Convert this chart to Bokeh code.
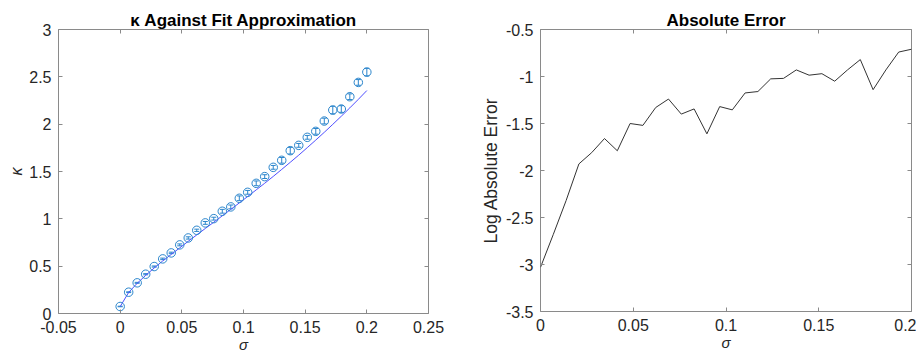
from bokeh.plotting import figure
from bokeh.layouts import row
from bokeh.models import Range1d, LinearAxis, FixedTicker, ColumnDataSource, Whisker, TeeHead
from bokeh.embed import file_html
from bokeh.resources import INLINE

# ---- data ----
sigma = [0.0, 0.0069, 0.0138, 0.0207, 0.0276, 0.0345, 0.0414, 0.0483, 0.0552, 0.0621,
         0.0690, 0.0759, 0.0828, 0.0897, 0.0966, 0.1034, 0.1103, 0.1172, 0.1241, 0.1310,
         0.1379, 0.1448, 0.1517, 0.1586, 0.1655, 0.1724, 0.1793, 0.1862, 0.1931, 0.2000]
kappa = [0.074, 0.225, 0.324, 0.415, 0.496, 0.577, 0.640, 0.725, 0.798, 0.879,
         0.957, 1.002, 1.080, 1.126, 1.217, 1.280, 1.375, 1.446, 1.544, 1.618,
         1.720, 1.776, 1.861, 1.924, 2.033, 2.149, 2.160, 2.290, 2.441, 2.550]
kappa_err = [0.003, 0.004, 0.005, 0.006, 0.006, 0.008, 0.008, 0.010, 0.012, 0.012,
             0.015, 0.015, 0.020, 0.020, 0.025, 0.020, 0.025, 0.020, 0.020, 0.030,
             0.035, 0.020, 0.020, 0.030, 0.030, 0.040, 0.035, 0.030, 0.030, 0.040]
kappa_fit = [0.073, 0.223, 0.319, 0.403, 0.481, 0.555, 0.624, 0.693, 0.763, 0.830,
             0.898, 0.964, 1.032, 1.100, 1.168, 1.236, 1.306, 1.376, 1.448, 1.522,
             1.597, 1.673, 1.752, 1.832, 1.914, 1.998, 2.084, 2.172, 2.262, 2.355]
log_abs_err = [-3.03, -2.68, -2.32, -1.93, -1.81, -1.66, -1.79, -1.50, -1.52, -1.33,
               -1.24, -1.40, -1.345, -1.61, -1.32, -1.355, -1.175, -1.16, -1.025, -1.02,
               -0.93, -0.986, -0.97, -1.05, -0.93, -0.82, -1.14, -0.93, -0.74, -0.71]

left_xticks = [-0.05, 0.0, 0.05, 0.1, 0.15, 0.2, 0.25]
left_xlabels = ["-0.05", "0", "0.05", "0.1", "0.15", "0.2", "0.25"]
left_yticks = [0.0, 0.5, 1.0, 1.5, 2.0, 2.5, 3.0]
left_ylabels = ["0", "0.5", "1", "1.5", "2", "2.5", "3"]
right_xticks = [0.0, 0.05, 0.1, 0.15, 0.2]
right_xlabels = ["0", "0.05", "0.1", "0.15", "0.2"]
right_yticks = [-3.5, -3.0, -2.5, -2.0, -1.5, -1.0, -0.5]
right_ylabels = ["-3.5", "-3", "-2.5", "-2", "-1.5", "-1", "-0.5"]

FONT = "Liberation Sans"
TXT = "#262626"
AX = "#8a8a8a"
BLUE = "#2a85cc"


def style(p, xt, xl, yt, yl):
    p.outline_line_color = AX
    p.outline_line_width = 1
    p.xgrid.visible = False
    p.ygrid.visible = False
    bottom = p.below[0]
    left = p.left[0]
    for ax, ticks, labels in ((bottom, xt, xl), (left, yt, yl)):
        ax.ticker = FixedTicker(ticks=ticks)
        ax.major_label_overrides = {t: s for t, s in zip(ticks, labels)}
        ax.axis_line_color = None
        ax.major_tick_line_color = AX
        ax.major_tick_in = 4
        ax.major_tick_out = 0
        ax.minor_tick_line_color = None
        ax.major_label_text_font = FONT
        ax.major_label_text_font_size = "16px"
        ax.major_label_text_color = TXT
        ax.axis_label_text_font = FONT
        ax.axis_label_text_color = TXT
    bottom.major_label_standoff = 7
    left.major_label_standoff = 7
    # mirrored ticks on top and right (no labels)
    top = LinearAxis(ticker=FixedTicker(ticks=xt), axis_line_color=None,
                     major_tick_line_color=AX, major_tick_in=4, major_tick_out=0,
                     minor_tick_line_color=None, major_label_text_color=None,
                     major_label_text_font_size="1px",
                     major_label_overrides={t: "" for t in xt},
                     major_label_standoff=0)
    right = LinearAxis(ticker=FixedTicker(ticks=yt), axis_line_color=None,
                       major_tick_line_color=AX, major_tick_in=4, major_tick_out=0,
                       minor_tick_line_color=None, major_label_text_color=None,
                       major_label_text_font_size="1px",
                       major_label_overrides={t: "" for t in yt},
                       major_label_standoff=0)
    p.add_layout(top, "above")
    p.add_layout(right, "right")
    p.title.text_font = FONT
    p.title.text_font_size = "17px"
    p.title.text_font_style = "bold"
    p.title.text_color = "#000000"
    p.title.align = "center"
    p.title.standoff = 0
    return bottom, left


# ---- left panel ----
p1 = figure(frame_width=370, frame_height=284, min_border_left=58, min_border_right=32,
            min_border_top=26, min_border_bottom=45,
            x_range=Range1d(-0.05, 0.25), y_range=Range1d(0, 3),
            title="\u03ba Against Fit Approximation",
            output_backend="svg", toolbar_location=None)
b1, l1 = style(p1, left_xticks, left_xlabels, left_yticks, left_ylabels)
b1.axis_label = "\u03c3"
b1.axis_label_text_font_style = "italic"
b1.axis_label_text_font_size = "15px"
b1.axis_label_standoff = 0
l1.axis_label = "\u03ba"
l1.axis_label_text_font_style = "italic"
l1.axis_label_text_font_size = "16px"
l1.axis_label_standoff = 1

src = ColumnDataSource(dict(
    x=sigma, y=kappa,
    lo=[k - e for k, e in zip(kappa, kappa_err)],
    hi=[k + e for k, e in zip(kappa, kappa_err)]))
p1.line(sigma, kappa_fit, line_color="#4f4fff", line_width=1)
p1.scatter("x", "y", source=src, marker="circle", size=8.5, fill_color=None,
           line_color=BLUE, line_width=1)
p1.add_layout(Whisker(source=src, base="x", lower="lo", upper="hi",
                      line_color=BLUE, line_width=1,
                      lower_head=TeeHead(size=5, line_color=BLUE, line_width=1),
                      upper_head=TeeHead(size=5, line_color=BLUE, line_width=1)))

# ---- right panel ----
p2 = figure(frame_width=371, frame_height=282, min_border_left=80, min_border_right=5,
            min_border_top=29, min_border_bottom=44,
            x_range=Range1d(0, 0.2), y_range=Range1d(-3.5, -0.5),
            title="Absolute Error",
            output_backend="svg", toolbar_location=None)
b2, l2 = style(p2, right_xticks, right_xlabels, right_yticks, right_ylabels)
b2.axis_label = "\u03c3"
b2.axis_label_text_font_style = "italic"
b2.axis_label_text_font_size = "15px"
b2.axis_label_standoff = 0
l2.axis_label = "Log Absolute Error"
l2.axis_label_text_font_style = "normal"
l2.axis_label_text_font_size = "17.5px"
l2.axis_label_standoff = 2
p2.line(sigma, log_abs_err, line_color="#333333", line_width=1)

layout = row(p1, p2)
open("out.html", "w").write(file_html(layout, INLINE))
